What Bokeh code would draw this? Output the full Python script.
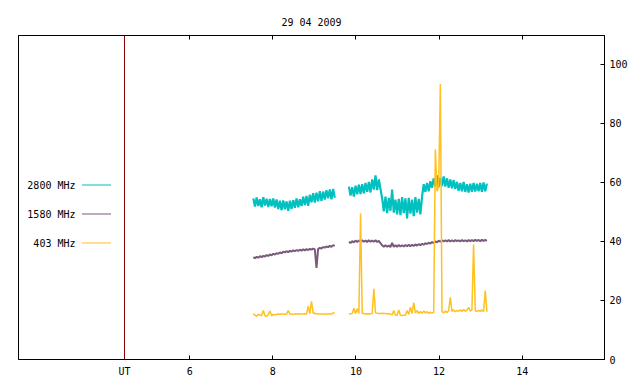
import numpy as np
from bokeh.plotting import figure
from bokeh.models import (LinearAxis, FixedTicker, Span, Label, BoxAnnotation,
                          ColumnDataSource, Range1d)
from bokeh.embed import file_html
from bokeh.resources import INLINE

TITLE = "29 04 2009"
SERIES_NAMES = ["2800 MHz", "1580 MHz", "403 MHz"]
SERIES_COLORS = ["#00c0c0", "#7a5a7a", "#ffc020"]
SERIES_WIDTHS = [2.2, 2.0, 1.5]
X_TICKS = [6, 8, 10, 12, 14]
Y_TICKS = [0, 20, 40, 60, 80, 100]
UT_MARK = 4.43          # position of the "UT" marker line (hours)

# sampling grid of the two recording sessions (hours UT)
T1_START = 7.53
T2_START = 9.83
T_STEP = 0.04

# 2800 MHz
cyan_a = [54.6, 51.8, 54.9, 52.0, 54.3, 51.6, 55.0, 52.2, 54.5, 51.7,
          54.4, 51.9, 54.6, 51.5, 54.2, 51.0, 53.8, 50.6, 53.9, 50.9,
          53.6, 50.4, 53.8, 51.0, 54.0, 51.4, 54.6, 51.6, 54.3, 52.0,
          55.2, 52.3, 55.4, 52.1, 55.8, 53.3, 56.4, 53.2, 56.5, 53.6,
          57.0, 53.8, 56.9, 54.2, 57.4, 54.6, 57.6, 54.3, 57.8, 54.8]
cyan_b = [58.6, 55.6, 58.4, 55.2, 58.9, 56.0, 59.2, 56.1, 59.4, 56.3,
          59.8, 56.8, 60.2, 56.6, 61.0, 57.6, 62.4, 57.4, 61.0, 57.8,
          54.6, 50.2, 55.2, 49.6, 54.8, 50.4, 57.6, 49.8, 54.2, 49.2,
          54.4, 48.9, 55.0, 49.6, 54.6, 47.8, 54.8, 49.4, 54.2, 48.6,
          55.0, 49.8, 54.4, 49.2, 55.2,
          59.4, 56.8, 59.8, 57.0, 60.4, 58.2, 61.4, 58.6, 62.4, 58.4,
          61.6, 58.8, 62.0, 58.6, 61.4, 58.2, 61.0, 58.0, 60.8, 57.8,
          60.2, 57.2, 59.8, 57.0, 60.2, 56.8, 59.4, 56.6, 59.6, 56.8,
          59.8, 56.9, 59.6, 57.0, 59.8, 56.8, 60.0, 57.0, 59.6]

# 1580 MHz
purple_a = [34.7, 34.3, 34.8, 34.5, 35.0, 34.7, 35.1, 34.9, 35.4, 35.1,
            35.6, 35.3, 35.8, 35.6, 36.0, 35.8, 36.3, 36.0, 36.5, 36.3,
            36.7, 36.4, 36.8, 36.6, 37.0, 36.7, 37.1, 36.8, 37.2, 36.9,
            37.3, 37.0, 37.4, 37.1, 37.5, 37.2, 37.6, 37.3, 31.0, 37.5,
            37.8, 37.6, 38.1, 37.9, 38.3, 38.1, 38.5, 38.2, 38.7, 38.5]
purple_b = [39.9, 39.5, 40.1, 39.7, 40.3, 39.8, 40.3, 39.9, 40.4, 39.9,
            40.3, 39.8, 40.4, 39.9, 40.3, 39.9, 40.4, 39.8, 40.2, 39.4,
            38.7, 38.2, 38.7, 38.2, 38.6, 38.1, 39.5, 38.2, 38.7, 38.2,
            38.8, 38.3, 38.7, 38.3, 38.8, 38.4, 38.9, 38.4, 38.9, 38.5,
            39.0, 38.6, 39.1, 38.7, 39.2,
            38.9, 39.4, 39.1, 39.6, 39.3, 39.8, 39.5, 40.0, 39.7, 40.3,
            39.9, 40.4, 40.0, 40.4, 40.0, 40.5, 40.0, 40.4, 40.0, 40.5,
            40.1, 40.4, 40.0, 40.5, 40.1, 40.4, 40.0, 40.5, 40.1, 40.5,
            40.1, 40.6, 40.2, 40.5, 40.1, 40.6, 40.2, 40.5, 40.2]

# 403 MHz
yellow_a = [15.6, 15.0, 14.7, 15.3, 15.1, 14.8, 16.6, 14.9, 14.6, 15.2,
            16.4, 14.8, 15.3, 15.1, 15.3, 15.4, 15.3, 15.4, 15.4, 15.3,
            15.4, 16.6, 15.4, 15.4, 15.3, 15.4, 15.4, 15.5, 15.4, 15.4,
            15.4, 15.5, 15.4, 18.1, 15.5, 19.7, 15.6, 15.7, 15.5, 15.4,
            15.4, 15.4, 15.4, 15.4, 15.4, 15.4, 15.4, 15.4, 15.8, 15.8]
yellow_b = [15.4, 15.5, 15.6, 17.4, 15.6, 17.2, 15.6, 49.6, 15.7, 15.6,
            15.4, 15.5, 15.4, 15.5, 15.6, 24.0, 15.8, 15.7, 15.6, 15.6,
            15.7, 15.6, 15.6, 15.5, 15.5, 15.4, 15.1, 16.6, 15.0, 15.0,
            16.8, 15.0, 14.9, 15.0, 15.0, 16.6, 15.3, 17.7, 15.6, 19.3,
            15.8, 16.6, 15.6, 16.3, 15.7,
            16.4, 15.8, 16.2, 15.6, 16.0, 15.7, 16.0, 71.2, 57.0, 58.7,
            93.4, 16.2, 15.8, 16.4, 15.9, 16.6, 21.1, 16.3, 16.8, 16.2,
            16.6, 16.4, 16.8, 16.3, 16.9, 16.4, 16.7, 17.7, 16.4, 16.8,
            39.0, 16.6, 16.2, 16.7, 16.3, 16.8, 16.2, 23.4, 16.2]

SERIES = [(cyan_a, cyan_b), (purple_a, purple_b), (yellow_a, yellow_b)]

FONT = "DejaVu Sans Mono"
FS = "10px"

p = figure(frame_width=586, frame_height=324,
           x_range=Range1d(1.88, 15.98), y_range=Range1d(0, 109.8),
           output_backend="svg", toolbar_location=None,
           y_axis_location="right",
           min_border_left=18, min_border_top=35,
           min_border_right=28, min_border_bottom=17,
           title=TITLE)
p.background_fill_color = "white"
p.border_fill_color = "white"
p.grid.visible = False
p.outline_line_color = "black"
p.outline_line_alpha = 1.0

p.title.align = "center"
p.title.text_font = FONT
p.title.text_font_size = FS
p.title.text_font_style = "normal"
p.title.text_color = "black"
p.title.standoff = 15

def style_axis(ax):
    ax.major_tick_in = 4
    ax.major_tick_out = 0
    ax.minor_tick_line_color = None
    ax.major_tick_line_color = "black"
    ax.axis_line_color = "black"
    ax.major_label_text_font = FONT
    ax.major_label_text_font_size = FS
    ax.major_label_text_color = "black"

xa = p.xaxis[0]
xa.ticker = FixedTicker(ticks=[UT_MARK] + X_TICKS)
xa.major_label_overrides = {UT_MARK: "UT"}
style_axis(xa)
xa.major_label_standoff = 6

ya = p.yaxis[0]
ya.ticker = FixedTicker(ticks=Y_TICKS)
style_axis(ya)
ya.major_label_standoff = 5

# mirrored tick marks on the top edge (no labels)
top = LinearAxis(ticker=FixedTicker(ticks=X_TICKS))
style_axis(top)
top.major_label_text_font_size = "0px"
top.major_label_text_color = None
top.major_label_standoff = 0
p.add_layout(top, "above")

# series
for (seg_a, seg_b), color, lw in zip(SERIES, SERIES_COLORS, SERIES_WIDTHS):
    ta = T1_START + T_STEP * np.arange(len(seg_a))
    tb = T2_START + T_STEP * np.arange(len(seg_b))
    t = np.concatenate([ta, [np.nan], tb])
    v = np.concatenate([np.array(seg_a, float), [np.nan], np.array(seg_b, float)])
    src = ColumnDataSource(dict(t=t, v=v))
    p.line("t", "v", source=src, line_color=color, line_width=lw)

p.add_layout(Span(location=UT_MARK, dimension="height",
                  line_color="#8b0000", line_width=1))

# gnuplot-style key (text left of sample line)
KEY_TEXT_RIGHT = 57
KEY_LINE_X = (63.5, 92.5)
KEY_Y = [174.5, 145.5, 116.5]
for name, color, ky in zip(SERIES_NAMES, SERIES_COLORS, KEY_Y):
    p.add_layout(Label(x=KEY_TEXT_RIGHT, y=ky, x_units="screen", y_units="screen",
                       text=name, text_align="right", text_baseline="middle",
                       text_font=FONT, text_font_size=FS, text_color="black"))
    p.add_layout(BoxAnnotation(left=KEY_LINE_X[0], right=KEY_LINE_X[1],
                               bottom=ky - 0.5, top=ky + 0.5,
                               left_units="screen", right_units="screen",
                               top_units="screen", bottom_units="screen",
                               fill_color=color, fill_alpha=1.0,
                               line_color=None))

open("out.html", "w").write(file_html(p, INLINE))
